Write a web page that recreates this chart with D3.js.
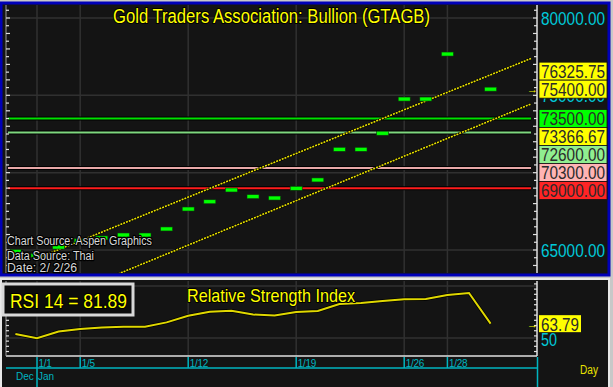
<!DOCTYPE html>
<html>
<head>
<meta charset="utf-8">
<script src="https://cdnjs.cloudflare.com/ajax/libs/d3/7.8.5/d3.min.js"></script>
<style>
  html, body { margin: 0; padding: 0; background: #c8c8c8; }
  svg { display: block; font-family: "Liberation Sans", Arial, sans-serif; }
</style>
</head>
<body>
<svg id="chart" width="613" height="387"></svg>
<script>
// trading days shown on the chart (first one is Dec 31)
const days = ["12/31","1/1","1/2","1/5","1/6","1/7","1/8","1/9","1/12","1/13","1/14","1/15","1/16",
              "1/19","1/20","1/21","1/22","1/23","1/26","1/27","1/28","1/29","1/30"];
const closes = [64900, 64650, 65190, 65600, 65780, 65970, 65970, 66360, 67650, 68120, 68880, 68450, 68360,
                68990, 69530, 71510, 71510, 72550, 74760, 74760, 77670, null, 75400];
const rsi = [53.8, 49.7, 56.2, 58.7, 60.1, 60.9, 60.9, 65.0, 71.4, 75.3, 76.2, 72.6, 71.6,
             75.0, 76.0, 82.7, 83.7, 85.6, 87.2, 87.5, 91.3, 93.3, 63.79];
const dateTicks = ["1/1", "1/5", "1/12", "1/19", "1/26", "1/28"];
const priceTicks = [80000, 75000, 70000, 65000];
const rsiTicks = [50];
const upperTrend = [{ d: 1, v: 64460 }, { d: 23.87, v: 77382 }];
const lowerTrend = [{ d: 0, v: 60716 }, { d: 23.87, v: 74442 }];
const levels = [73500, 72600, 70300, 69000];
const levelColors = ["#00e000", "#7fd77f", "#e8a8a8", "#ff1c1c"];
const lastPrice = 75400;
const lastRsi = 63.79;
const priceLabels = [
  { v: 76325.75, bg: "#ffff00" },
  { v: 75400.00, bg: "#ffff00", anchor: true },
  { v: 73500.00, bg: "#00ff00" },
  { v: 73366.67, bg: "#ffff00" },
  { v: 72600.00, bg: "#90ee90" },
  { v: 70300.00, bg: "#ffb4b4" },
  { v: 69000.00, bg: "#ff2424" }
];

const svg = d3.select("#chart");
const plotL = 7, plotR = 537;
const topP = { y0: 5, y1: 273 };
const lowP = { y0: 281, y1: 356 };

const x = d3.scaleLinear().domain([0, 22]).range([15.4, 490.6]);
const y = d3.scaleLinear().domain([65000, 80000]).range([250, 18]);
const yr = d3.scaleLinear().domain([50, 100]).range([338, 286]);
const xOf = lab => x(days.indexOf(lab));

// panels
svg.append("rect").attr("x", 1).attr("y", 3).attr("width", 608).attr("height", 272)
  .attr("fill", "#141414").attr("stroke", "#0000b8").attr("stroke-width", 3);
svg.append("rect").attr("x", 1).attr("y", 279).attr("width", 608).attr("height", 110)
  .attr("fill", "#141414").attr("stroke", "#e8e8e8").attr("stroke-width", 2);

const defs = svg.append("defs");
defs.append("clipPath").attr("id", "clipTop").append("rect")
  .attr("x", plotL).attr("y", topP.y0).attr("width", plotR - plotL).attr("height", topP.y1 - topP.y0);
defs.append("clipPath").attr("id", "clipLow").append("rect")
  .attr("x", plotL).attr("y", lowP.y0).attr("width", plotR - plotL).attr("height", lowP.y1 - lowP.y0);

// grids
const gTop = svg.append("g").attr("clip-path", "url(#clipTop)");
const gLow = svg.append("g").attr("clip-path", "url(#clipLow)");
dateTicks.forEach(t => {
  gTop.append("line").attr("x1", xOf(t)).attr("x2", xOf(t)).attr("y1", topP.y0).attr("y2", topP.y1)
    .attr("stroke", "#303030").attr("stroke-width", 1.5);
  gLow.append("line").attr("x1", xOf(t)).attr("x2", xOf(t)).attr("y1", lowP.y0).attr("y2", lowP.y1)
    .attr("stroke", "#303030").attr("stroke-width", 1.5);
});
priceTicks.forEach(v => {
  gTop.append("line").attr("x1", plotL).attr("x2", plotR).attr("y1", y(v)).attr("y2", y(v))
    .attr("stroke", "#303030").attr("stroke-width", 1.5);
});
[50, 100].forEach(v => {
  gLow.append("line").attr("x1", plotL).attr("x2", plotR).attr("y1", yr(v)).attr("y2", yr(v))
    .attr("stroke", "#303030").attr("stroke-width", 1.5);
});

// horizontal levels
levels.forEach((v, i) => {
  gTop.append("line").attr("x1", plotL + 1).attr("x2", 531).attr("y1", y(v)).attr("y2", y(v))
    .attr("stroke", "#000").attr("stroke-width", 4);
  gTop.append("line").attr("x1", plotL + 1).attr("x2", 531).attr("y1", y(v)).attr("y2", y(v))
    .attr("stroke", levelColors[i]).attr("stroke-width", 2);
});

// trend channel
const trendLine = d3.line().x(d => x(d.d)).y(d => y(d.v));
[upperTrend, lowerTrend].forEach(t => {
  gTop.append("path").attr("d", trendLine(t)).attr("fill", "none")
    .attr("stroke", "#000").attr("stroke-width", 2.5);
  gTop.append("path").attr("d", trendLine(t)).attr("fill", "none")
    .attr("stroke", "#e8e000").attr("stroke-width", 1.6).attr("stroke-dasharray", "2,1");
});

// close dashes
const bars = days.map((d, i) => ({ i, v: closes[i] })).filter(d => d.v != null);
gTop.selectAll(".bar").data(bars).enter().append("rect")
  .attr("x", d => x(d.i) - 6).attr("y", d => y(d.v) - 2).attr("width", 12).attr("height", 4)
  .attr("fill", "#00ff00").attr("stroke", "#0a3a0a").attr("stroke-width", 0.6);

// RSI line
const rsiLine = d3.line().x((d, i) => x(i)).y(d => yr(d));
gLow.append("path").attr("d", rsiLine(rsi)).attr("fill", "none")
  .attr("stroke", "#000").attr("stroke-width", 3.5);
gLow.append("path").attr("d", rsiLine(rsi)).attr("fill", "none")
  .attr("stroke", "#e0d800").attr("stroke-width", 2);

// axes lines and minor ticks
const axisCol = "#e0e0e0";
svg.append("line").attr("x1", plotR).attr("x2", plotR).attr("y1", topP.y0).attr("y2", topP.y1)
  .attr("stroke", axisCol).attr("stroke-width", 1.5);
svg.append("line").attr("x1", plotL - 1).attr("x2", plotL - 1).attr("y1", topP.y0).attr("y2", topP.y1)
  .attr("stroke", "#9a9a9a").attr("stroke-width", 1);
const minor = d3.range(63000, 80501, 500).filter(v => y(v) > topP.y0 && y(v) < topP.y1);
minor.forEach(v => {
  const len = v % 1000 === 0 ? 4 : 3;
  svg.append("line").attr("x1", plotR - len).attr("x2", plotR).attr("y1", y(v)).attr("y2", y(v))
    .attr("stroke", axisCol).attr("stroke-width", 1.2);
  svg.append("line").attr("x1", plotL - 1).attr("x2", plotL + len - 1).attr("y1", y(v)).attr("y2", y(v))
    .attr("stroke", axisCol).attr("stroke-width", 1.2);
});
svg.append("line").attr("x1", plotR).attr("x2", plotR).attr("y1", lowP.y0).attr("y2", lowP.y1)
  .attr("stroke", axisCol).attr("stroke-width", 1.5);
svg.append("line").attr("x1", plotL - 1).attr("x2", plotR).attr("y1", lowP.y1).attr("y2", lowP.y1)
  .attr("stroke", axisCol).attr("stroke-width", 1.5);
svg.append("line").attr("x1", plotL - 1).attr("x2", plotL - 1).attr("y1", lowP.y0).attr("y2", lowP.y1)
  .attr("stroke", "#9a9a9a").attr("stroke-width", 1);
d3.range(32, 106, 5).filter(v => yr(v) > lowP.y0 && yr(v) < lowP.y1).forEach(v => {
  svg.append("line").attr("x1", plotR - 3).attr("x2", plotR).attr("y1", yr(v)).attr("y2", yr(v))
    .attr("stroke", axisCol).attr("stroke-width", 1.2);
  svg.append("line").attr("x1", plotL - 1).attr("x2", plotL + 2).attr("y1", yr(v)).attr("y2", yr(v))
    .attr("stroke", axisCol).attr("stroke-width", 1.2);
});

// outlined text helper
function otext(g, s, px, py, size, fill, len, anchor) {
  const t = g.append("text").attr("x", px).attr("y", py).text(s)
    .attr("font-size", size).attr("fill", fill)
    .attr("stroke", "#000").attr("stroke-width", 2).attr("paint-order", "stroke")
    .attr("stroke-linejoin", "round");
  if (len) t.attr("textLength", len).attr("lengthAdjust", "spacingAndGlyphs");
  if (anchor) t.attr("text-anchor", anchor);
  return t;
}

// titles
otext(svg, "Gold Traders Association: Bullion (GTAGB)", 113, 23, 20, "#ffff00", 317);
otext(svg, "Relative Strength Index", 187, 302, 19, "#ffff00", 168);

// source notes
otext(svg, "Chart Source: Aspen Graphics", 7, 245, 12, "#d8d8d8", 145).attr("stroke-width", 2.5);
otext(svg, "Data Source: Thai", 7, 260, 12, "#d8d8d8", 87).attr("stroke-width", 2.5);
otext(svg, "Date: 2/ 2/26", 7, 272, 12, "#d8d8d8", 70).attr("stroke-width", 2.5);

// RSI value box
svg.append("rect").attr("x", 3).attr("y", 284).attr("width", 130).attr("height", 31)
  .attr("fill", "#0c0c0c").attr("stroke", "#d8d8d8").attr("stroke-width", 3);
otext(svg, "RSI 14 = 81.89", 10, 307.5, 20, "#ffff00", 117);

// right scale labels
priceTicks.forEach(v => {
  svg.append("text").attr("x", 541).attr("y", y(v) + 7).text(d3.format(".2f")(v))
    .attr("font-size", 18).attr("fill", "#00c8d8")
    .attr("textLength", 64).attr("lengthAdjust", "spacingAndGlyphs");
});

// stacked value boxes
const H = 18;
const sorted = priceLabels.slice().sort((a, b) => b.v - a.v);
const ai = sorted.findIndex(d => d.anchor);
sorted.forEach(d => { d.top = y(d.v) - H / 2; });
for (let i = ai + 1; i < sorted.length; i++) {
  sorted[i].top = Math.max(sorted[i].top, sorted[i - 1].top + H);
}
for (let i = ai - 1; i >= 0; i--) {
  sorted[i].top = Math.min(sorted[i].top, sorted[i + 1].top - H);
}
sorted.forEach(d => {
  svg.append("rect").attr("x", 539).attr("y", d.top).attr("width", 68).attr("height", H)
    .attr("fill", d.bg).attr("stroke", "#111").attr("stroke-width", 0.8);
  svg.append("text").attr("x", 541).attr("y", d.top + H / 2 + 6.6).text(d3.format(".2f")(d.v))
    .attr("font-size", 18).attr("fill", "#2a2a2a")
    .attr("textLength", 64).attr("lengthAdjust", "spacingAndGlyphs");
});

// last price arrows
function arrow(py) {
  svg.append("text").attr("x", 527).attr("y", py + 4).text("→")
    .attr("font-size", 11).attr("fill", "#ffff00").attr("font-weight", "bold");
}
arrow(y(lastPrice));
arrow(yr(lastRsi));

// RSI scale labels
rsiTicks.forEach(v => {
  svg.append("text").attr("x", 541).attr("y", yr(v) + 7.5).text(v)
    .attr("font-size", 19).attr("fill", "#00c8d8")
    .attr("textLength", 16).attr("lengthAdjust", "spacingAndGlyphs");
});
svg.append("rect").attr("x", 539).attr("y", yr(lastRsi) - 8.5).attr("width", 42).attr("height", 17)
  .attr("fill", "#ffff00");
svg.append("text").attr("x", 541).attr("y", yr(lastRsi) + 7).text(d3.format(".2f")(lastRsi))
  .attr("font-size", 18).attr("fill", "#2a2a2a")
  .attr("textLength", 38).attr("lengthAdjust", "spacingAndGlyphs");

// date axis
const cyan = "#00b4c0";
svg.append("line").attr("x1", plotL - 1).attr("x2", plotR).attr("y1", 368).attr("y2", 368)
  .attr("stroke", cyan).attr("stroke-width", 1.5);
svg.append("line").attr("x1", plotR + 0.5).attr("x2", plotR + 0.5).attr("y1", 357).attr("y2", 387)
  .attr("stroke", cyan).attr("stroke-width", 1.5);
dateTicks.forEach(t => {
  svg.append("line").attr("x1", xOf(t)).attr("x2", xOf(t)).attr("y1", 357).attr("y2", 368)
    .attr("stroke", cyan).attr("stroke-width", 1.5);
  svg.append("text").attr("x", xOf(t) + 1.5).attr("y", 367).text(t)
    .attr("font-size", 10).attr("fill", cyan).attr("letter-spacing", -0.3);
});
svg.append("line").attr("x1", xOf("1/1")).attr("x2", xOf("1/1")).attr("y1", 368).attr("y2", 387)
  .attr("stroke", cyan).attr("stroke-width", 1.5);
svg.append("text").attr("x", 16).attr("y", 380).text("Dec").attr("font-size", 10).attr("fill", cyan);
svg.append("text").attr("x", 38).attr("y", 380).text("Jan").attr("font-size", 10).attr("fill", cyan);
svg.append("text").attr("x", 580).attr("y", 374).text("Day").attr("font-size", 12).attr("fill", "#e8e000")
  .attr("textLength", 18).attr("lengthAdjust", "spacingAndGlyphs");
</script>
</body>
</html>
